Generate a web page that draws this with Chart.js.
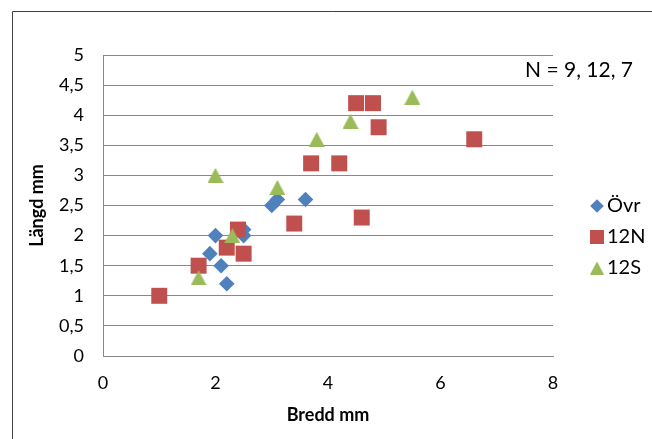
<!DOCTYPE html>
<html><head><meta charset="utf-8">
<script src="https://cdn.jsdelivr.net/npm/chart.js@4/dist/chart.umd.min.js"></script>
<style>html,body{margin:0;padding:0;background:#fff}#wrap{width:652px;height:439px}</style>
</head><body><div id="wrap"><canvas id="c" width="652" height="439"></canvas></div>
<script>
const seriesNames = ['Övr', '12N', '12S'];
const ovrX = [2.0, 1.9, 2.1, 2.2, 2.5, 2.5, 3.0, 3.1, 3.6];
const ovrY = [2.0, 1.7, 1.5, 1.2, 2.1, 2.0, 2.5, 2.6, 2.6];
const n12X = [1.0, 1.7, 2.2, 2.4, 2.5, 3.4, 3.7, 4.2, 4.5, 4.8, 4.9, 4.6, 6.6];
const n12Y = [1.0, 1.5, 1.8, 2.1, 1.7, 2.2, 3.2, 3.2, 4.2, 4.2, 3.8, 2.3, 3.6];
const s12X = [1.7, 2.0, 2.3, 3.1, 3.8, 4.4, 5.5];
const s12Y = [1.3, 3.0, 2.0, 2.8, 3.6, 3.9, 4.3];
const xTickLabels = ['0', '2', '4', '6', '8'];
const yTickLabels = ['0', '0,5', '1', '1,5', '2', '2,5', '3', '3,5', '4', '4,5', '5'];
const xTitle = 'Bredd mm';
const yTitle = 'Längd mm';
const noteText = 'N = 9, 12, 7';

const FONT = 'Lato, "Open Sans", sans-serif';
const pts = (xs, ys) => xs.map((x, i) => ({x: x, y: ys[i]}));
const colors = ['#4F81BD', '#C0504D', '#9BBB59'];

function triangleCanvas(w, h, color) {
  const c = document.createElement('canvas');
  c.width = w; c.height = h;
  const g = c.getContext('2d');
  g.fillStyle = color;
  g.beginPath();
  g.moveTo(w / 2, 0);
  g.lineTo(w, h);
  g.lineTo(0, h);
  g.closePath();
  g.fill();
  return c;
}
const triMarker = triangleCanvas(16, 15, colors[2]);
const triLegend = triangleCanvas(14, 13, colors[2]);

const styles = ['rectRot', 'rect', triMarker];
const radii = [7.8, 11.3, 8];
const legendStyles = ['rectRot', 'rect', triLegend];
const legendRadii = [6.8, 9.9, 7];

const extras = {
  id: 'extras',
  afterDraw(chart) {
    const ctx = chart.ctx;
    ctx.save();
    ctx.strokeStyle = '#404040';
    ctx.lineWidth = 1;
    ctx.beginPath();
    ctx.moveTo(12.5, 439);
    ctx.lineTo(12.5, 11.5);
    ctx.lineTo(652, 11.5);
    ctx.stroke();
    ctx.fillStyle = '#000';
    ctx.font = '21px ' + FONT;
    ctx.textBaseline = 'middle';
    ctx.textAlign = 'left';
    ctx.fillText(noteText, 525, 70);
    const ly = [206, 237, 268];
    chart.data.datasets.forEach((ds, i) => {
      ctx.fillStyle = ds.backgroundColor;
      ctx.strokeStyle = ds.borderColor;
      Chart.helpers.drawPoint(ctx, {pointStyle: legendStyles[i], radius: legendRadii[i], borderWidth: 0, rotation: 0}, 597, ly[i]);
      ctx.fillStyle = '#000';
      ctx.font = '20px ' + FONT;
      ctx.fillText(ds.label, 607, ly[i]);
    });
    ctx.restore();
  }
};

new Chart(document.getElementById('c'), {
  type: 'scatter',
  data: {
    datasets: [
      {label: seriesNames[0], data: pts(ovrX, ovrY), order: 3},
      {label: seriesNames[1], data: pts(n12X, n12Y), order: 2},
      {label: seriesNames[2], data: pts(s12X, s12Y), order: 1}
    ].map((d, i) => Object.assign(d, {
      backgroundColor: colors[i], borderColor: colors[i], borderWidth: 0,
      pointStyle: styles[i], pointRadius: radii[i], pointHoverRadius: radii[i]
    }))
  },
  options: {
    responsive: false,
    devicePixelRatio: 1,
    animation: false,
    layout: {padding: {left: 0, top: 55, right: 99, bottom: 0}},
    plugins: {legend: {display: false}, tooltip: {enabled: false}},
    scales: {
      x: {
        type: 'linear', min: 0, max: 8,
        afterFit(s) { s.height = 83; },
        ticks: {stepSize: 2, padding: 16, color: '#000', font: {family: FONT, size: 18},
          callback: (v, i) => xTickLabels[i]},
        grid: {display: false, drawTicks: false},
        border: {display: true, color: '#888888', width: 1},
        title: {display: true, text: xTitle, color: '#000', font: {family: FONT, size: 18, weight: 'bold'}, padding: {top: 0, bottom: 13}}
      },
      y: {
        type: 'linear', min: 0, max: 5,
        afterFit(s) { s.width = 103; },
        ticks: {stepSize: 0.5, padding: 19, color: '#000', font: {family: FONT, size: 18},
          callback: (v, i) => yTickLabels[i]},
        grid: {color: '#888888', lineWidth: 1, drawTicks: false},
        border: {display: true, color: '#888888', width: 1},
        title: {display: true, text: yTitle, color: '#000', font: {family: FONT, size: 18, weight: 'bold'}, padding: {top: 26, bottom: 0}}
      }
    }
  },
  plugins: [extras]
});
</script></body></html>
